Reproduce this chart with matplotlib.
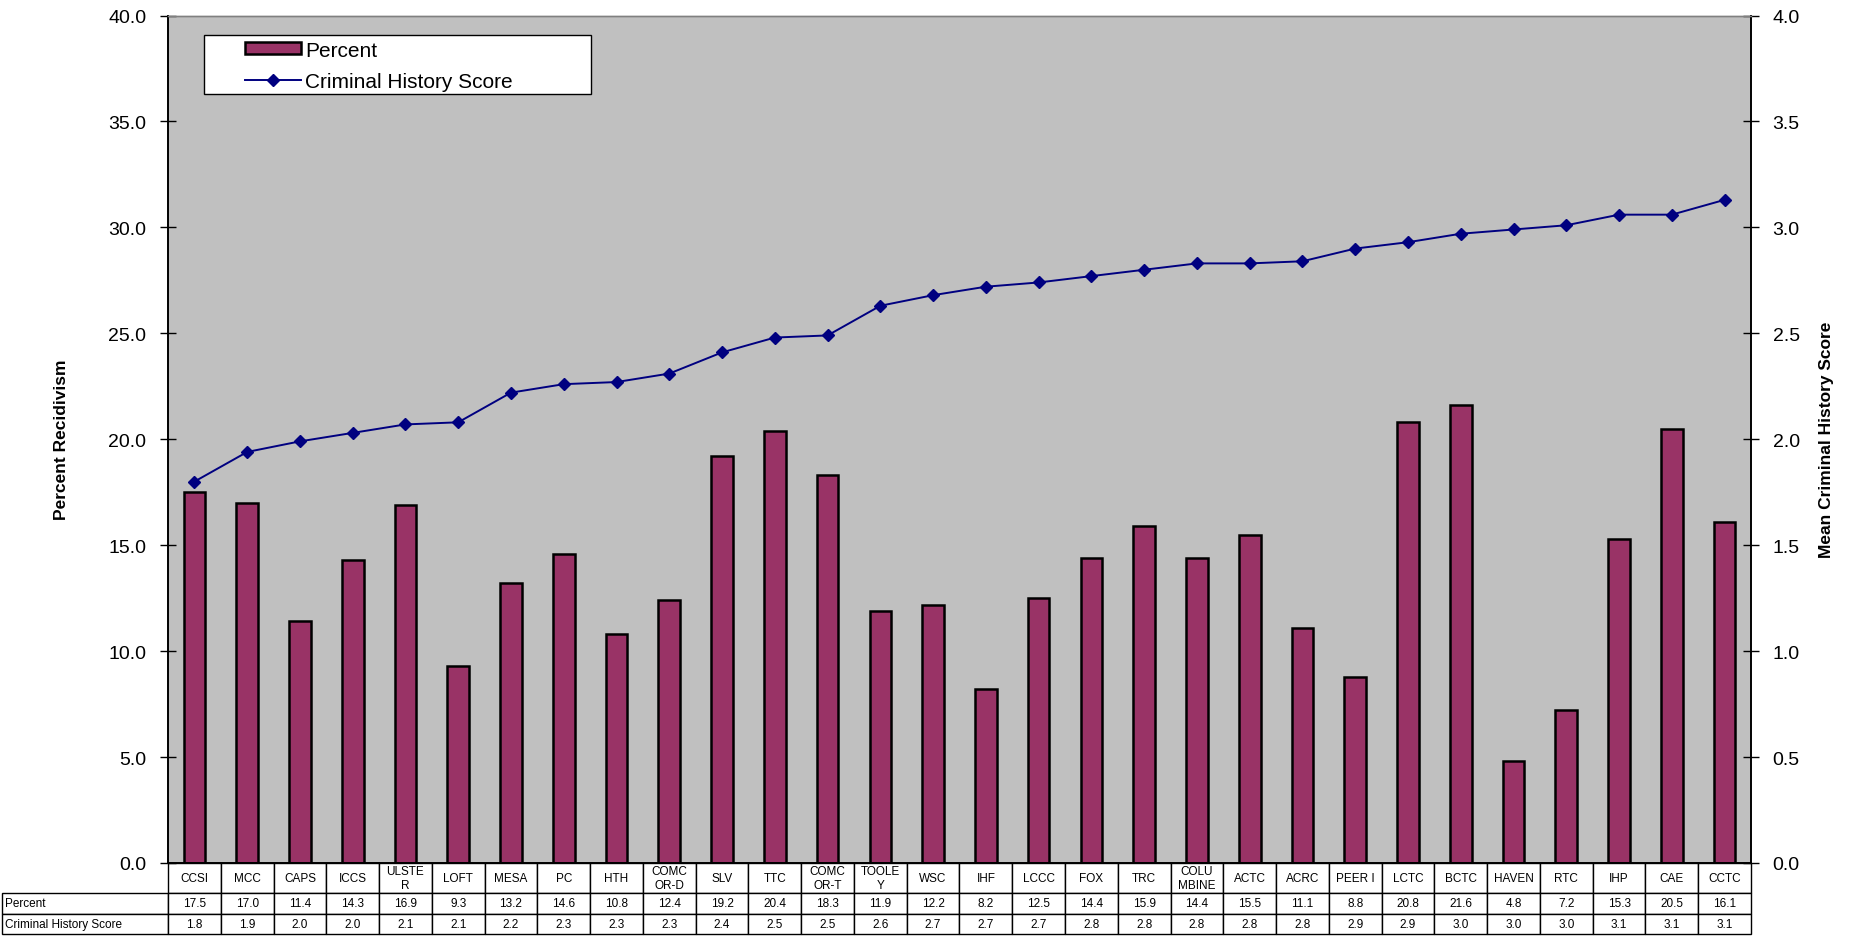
import matplotlib
matplotlib.use("Agg")
import matplotlib.pyplot as plt
import numpy as np
from matplotlib.lines import Line2D
from matplotlib.patches import Patch, Rectangle

plt.rcParams['font.family'] = ['Liberation Sans', 'DejaVu Sans']

categories = ["CCSI", "MCC", "CAPS", "ICCS", "ULSTE\nR", "LOFT", "MESA", "PC", "HTH",
              "COMC\nOR-D", "SLV", "TTC", "COMC\nOR-T", "TOOLE\nY", "WSC", "IHF", "LCCC",
              "FOX", "TRC", "COLU\nMBINE", "ACTC", "ACRC", "PEER I", "LCTC", "BCTC",
              "HAVEN", "RTC", "IHP", "CAE", "CCTC"]
percent = [17.5, 17.0, 11.4, 14.3, 16.9, 9.3, 13.2, 14.6, 10.8, 12.4, 19.2, 20.4, 18.3,
           11.9, 12.2, 8.2, 12.5, 14.4, 15.9, 14.4, 15.5, 11.1, 8.8, 20.8, 21.6, 4.8,
           7.2, 15.3, 20.5, 16.1]
chs = [1.80, 1.94, 1.99, 2.03, 2.07, 2.08, 2.22, 2.26, 2.27, 2.31, 2.41, 2.48, 2.49,
       2.63, 2.68, 2.72, 2.74, 2.77, 2.80, 2.83, 2.83, 2.84, 2.90, 2.93, 2.97, 2.99,
       3.01, 3.06, 3.06, 3.13]
left_ticks = [0.0, 5.0, 10.0, 15.0, 20.0, 25.0, 30.0, 35.0, 40.0]
right_ticks = [0.0, 0.5, 1.0, 1.5, 2.0, 2.5, 3.0, 3.5, 4.0]

W, H = 1855, 937
fig = plt.figure(figsize=(W / 100, H / 100), dpi=100)
L, R, T, B = 168, 1751, 16.5, 864
aw, ah = R - L, B - T
ax = fig.add_axes([L / W, 1 - B / H, aw / W, ah / H])
ax.set_facecolor("#C0C0C0")

x = np.arange(len(categories))
ax.bar(x, percent, width=0.41, color="#993366", edgecolor="black", linewidth=1.8, zorder=2)
ax.set_xlim(-0.5, len(categories) - 0.5)
ax.set_ylim(0, 40)
ax.set_yticks(left_ticks)
ax.set_yticklabels([f"{v:.1f}" for v in left_ticks], fontsize=14)
ax.set_xticks([])
ax.tick_params(axis='y', direction='inout', length=11, width=1, pad=10)
ax.set_ylabel("Percent Recidivism", fontsize=12.5, fontweight='bold', labelpad=28)

ax2 = ax.twinx()
ax2.plot(x, chs, color="#000080", linewidth=1.4, marker="D", markersize=6.5,
         markerfacecolor="#000080", markeredgecolor="#000080", zorder=3)
ax2.set_ylim(0, 4)
ax2.set_yticks(right_ticks)
ax2.set_yticklabels([f"{v:.1f}" for v in right_ticks], fontsize=14)
ax2.tick_params(axis='y', direction='inout', length=11, width=1, pad=10)
ax2.set_ylabel("Mean Criminal History Score", fontsize=12.5, fontweight='bold', labelpad=14)

for a in (ax, ax2):
    a.spines['top'].set_color("#808080")
    a.spines['top'].set_linewidth(1)
    a.spines['left'].set_linewidth(1.2)
    a.spines['right'].set_linewidth(1.2)
    a.spines['bottom'].set_linewidth(1.2)

# legend box
lx0, lx1, ly0, ly1 = 203.5, 591.5, 35.5, 94.6
ax2.add_patch(Rectangle(((lx0 - L) / aw, 1 - (ly1 - T) / ah), (lx1 - lx0) / aw,
                        (ly1 - ly0) / ah, transform=ax2.transAxes, facecolor="white",
                        edgecolor="black", linewidth=1, zorder=5))
handles = [Patch(facecolor="#993366", edgecolor="black", linewidth=1.8),
           Line2D([0], [0], color="#000080", linewidth=1.4, marker="D", markersize=6.5)]
leg = ax2.legend(handles, ["Percent", "Criminal History Score"], loc="upper left",
                 bbox_to_anchor=((245 - L) / aw, 1 - (41.5 - T) / ah),
                 frameon=False, fontsize=15, handlelength=2.7, handleheight=0.55,
                 borderpad=0, labelspacing=0.6, handletextpad=0.2, borderaxespad=0)
leg.set_zorder(6)

# data table
rows = [[""] + categories,
        ["Percent"] + [f"{v:.1f}" for v in percent],
        ["Criminal History Score"] + [f"{v:.1f}" for v in chs]]
tl = 2
tb = ax.table(cellText=rows, cellLoc='center',
              bbox=[-(L - tl) / aw, -(935 - B) / ah, (R - tl) / aw, (935 - B) / ah])
tb.auto_set_font_size(False)
row_h = [30, 21, 20]
for (r, c), cell in tb.get_celld().items():
    cell.set_height(row_h[r])
    cell.set_width((L - tl) if c == 0 else aw / len(categories))
    cell.set_linewidth(1)
    cell.set_edgecolor("black")
    cell.get_text().set_fontsize(8.5)
    if c == 0:
        cell.get_text().set_ha('left')
        cell.PAD = 0.02
        if r == 0:
            cell.set_visible(False)
    if r == 0:
        cell.get_text().set_linespacing(1.3)

fig.savefig("out.png", dpi=100)
